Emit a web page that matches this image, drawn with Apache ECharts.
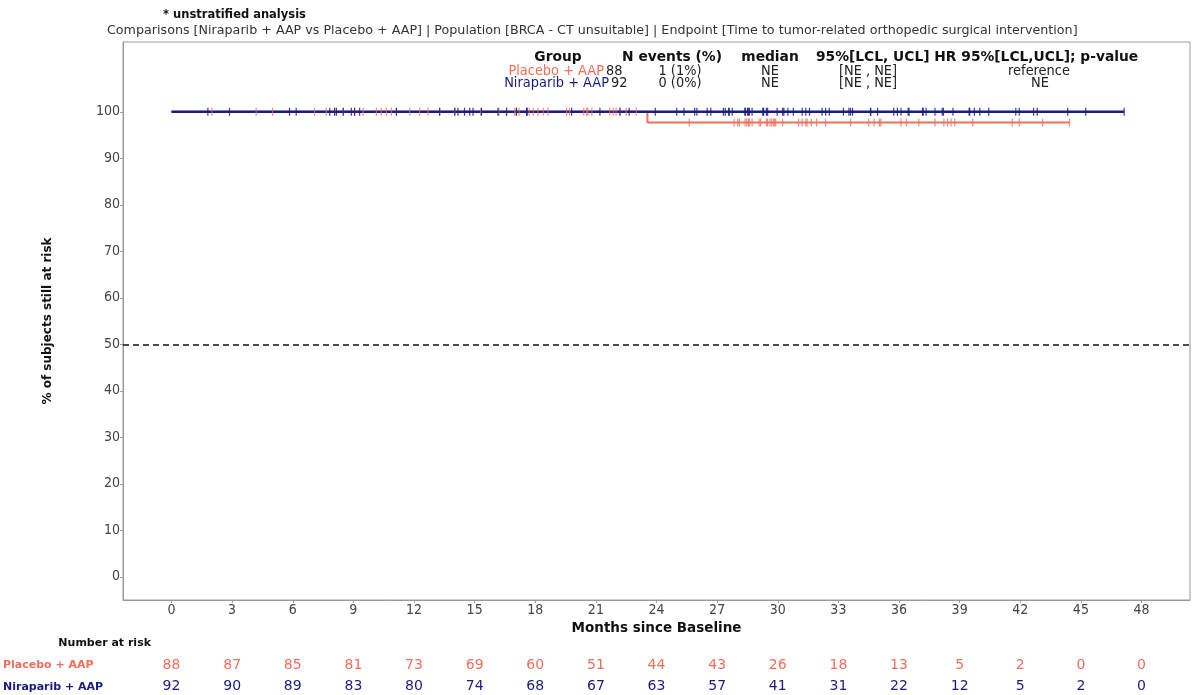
<!DOCTYPE html>
<html>
<head>
<meta charset="utf-8">
<script src="https://cdn.jsdelivr.net/npm/echarts@6/dist/echarts.min.js"></script>
<style>
  html, body { margin: 0; padding: 0; background: #fff; }
  #chart { width: 1192px; height: 695px; }
</style>
</head>
<body>
<div id="chart"></div>
<script>
// Axis ticks
const monthTicks = [0, 3, 6, 9, 12, 15, 18, 21, 24, 27, 30, 33, 36, 39, 42, 45, 48];
const pctTicks = [0, 10, 20, 30, 40, 50, 60, 70, 80, 90, 100];

// Groups
const groupNames = ['Placebo + AAP', 'Niraparib + AAP'];

// Kaplan-Meier step curves: [month, % still at risk]
const placeboCurve = [[0, 100], [23.55, 100], [23.55, 97.7], [44.44, 97.7]];
const niraparibCurve = [[0, 100], [47.14, 100]];

// Censoring times (months)
const placeboCensor = [
  2.0, 4.19, 5.0, 7.08, 7.66, 8.07, 8.5, 9.06, 9.48, 10.14, 10.38, 10.63, 10.88, 11.13, 11.79,
  12.28, 12.7, 13.27, 14.02, 15.3, 16.2, 16.58, 16.99, 17.07, 17.2, 17.57, 17.7, 17.9,
  18.14, 18.4, 18.64, 19.55, 19.7, 20.4, 20.54, 20.6, 20.8, 21.69, 21.86, 22.0, 22.19, 22.5, 23.0,
  25.62, 27.84, 28.02, 28.1, 28.38, 28.46, 28.55, 28.6, 28.73, 29.08, 29.15, 29.44, 29.5, 29.62,
  29.7, 29.79, 29.85, 29.9, 30.24, 31.03, 31.21, 31.39, 31.45, 31.66, 31.92, 32.37,
  33.61, 34.5, 34.77, 35.03, 35.1, 36.1, 36.37, 36.98, 37.78, 38.22, 38.4, 38.58, 38.76,
  39.65, 41.6, 41.95, 43.11, 44.44
];
const niraparibCensor = [
  1.8, 2.87, 5.84, 6.17, 7.83, 8.07, 8.16, 8.5, 8.9, 9.06, 9.31, 11.13,
  13.27, 14.02, 14.18, 14.5, 14.76, 14.92, 15.34, 16.16, 16.58, 17.07, 17.57, 17.6,
  19.8, 21.2, 22.19, 22.65, 23.94, 25.0, 25.36, 25.89, 26.0, 26.51, 26.69,
  27.31, 27.4, 27.57, 27.6, 27.75, 28.37, 28.4, 28.5, 28.55, 28.6, 28.73, 29.26, 29.3, 29.44, 29.5, 29.97,
  30.24, 30.3, 30.5, 30.77, 31.21, 31.39, 31.57, 32.19, 32.37, 32.55,
  33.25, 33.52, 33.6, 33.7, 34.59, 34.6, 34.94, 35.74, 35.92,
  36.1, 36.45, 36.5, 37.16, 37.2, 37.34, 37.78, 38.14, 38.2, 38.67,
  39.47, 39.5, 39.73, 40.0, 40.44, 41.78, 41.95, 42.66, 42.84, 44.35, 45.24, 47.14
];

// Number at risk at each month tick
const placeboAtRisk = [88, 87, 85, 81, 73, 69, 60, 51, 44, 43, 26, 18, 13, 5, 2, 0, 0];
const niraparibAtRisk = [92, 90, 89, 83, 80, 74, 68, 67, 63, 57, 41, 31, 22, 12, 5, 2, 0];

// Summary table
const summaryHeader = ['Group', 'N events (%)', 'median', '95%[LCL, UCL] HR 95%[LCL,UCL]; p-value'];
const placeboSummary = ['88', '1 (1%)', 'NE', '[NE , NE]', 'reference'];
const niraparibSummary = ['92', '0 (0%)', 'NE', '[NE , NE]', 'NE'];

const titleNote = '* unstratified analysis';
const subtitle = 'Comparisons [Niraparib + AAP vs Placebo + AAP] | Population [BRCA - CT unsuitable] | Endpoint [Time to tumor-related orthopedic surgical intervention]';

const PLACEBO = '#ef6f5d';
const NIRAPARIB = '#1b1b84';
const X_MIN = -2.4, X_MAX = 50.4;

function survivalAt(curve, t) {
  let v = curve[0][1];
  for (const p of curve) { if (p[0] <= t) v = p[1]; }
  return v;
}

const chart = echarts.init(document.getElementById('chart'), null, { renderer: 'canvas' });

const SANS = "'DejaVu Sans', sans-serif";
const COND = "'DejaVu Sans Condensed', 'Liberation Sans Narrow', 'DejaVu Sans', sans-serif";

function hiddenX(gridIndex) {
  return { type: 'value', gridIndex, min: X_MIN, max: X_MAX, show: false };
}
function hiddenY(gridIndex) {
  return { type: 'value', gridIndex, min: 0, max: 1, show: false };
}
// one row of the number-at-risk table, placed on the month scale
function riskRow(idx, values, color) {
  return {
    type: 'scatter', xAxisIndex: idx, yAxisIndex: idx, symbolSize: 0, silent: true,
    itemStyle: { opacity: 1 },
    data: monthTicks.map((m, i) => [m, 0.5, values[i]]),
    label: {
      show: true, position: 'inside', color, opacity: 1, fontFamily: SANS, fontSize: 14,
      formatter: p => String(p.value[2])
    }
  };
}

function tableText(x, y, text, opts) {
  return {
    type: 'text', x, y,
    style: Object.assign({ text, fill: '#222', align: 'center', verticalAlign: 'middle', font: "14.4px " + COND }, opts || {})
  };
}
const HEAD = "bold 13.8px 'DejaVu Sans', sans-serif";

const option = {
  animation: false,
  backgroundColor: '#fff',
  grid: [
    { left: 123, right: 2, top: 42, bottom: 95, show: true, borderColor: '#9a9a9a', borderWidth: 1 },
    { left: 123, right: 2, top: 656, height: 18 },
    { left: 123, right: 2, top: 678, height: 18 }
  ],
  xAxis: [
    {
      type: 'value', gridIndex: 0, min: X_MIN, max: X_MAX,
      name: 'Months since Baseline', nameLocation: 'middle', nameGap: 19,
      nameTextStyle: { fontFamily: SANS, fontWeight: 'bold', fontSize: 13.5, color: '#111' },
      axisLine: { show: true, onZero: false, lineStyle: { color: '#9a9a9a' } },
      axisTick: { show: true, length: 3, customValues: monthTicks, lineStyle: { color: '#9a9a9a' } },
      axisLabel: { customValues: monthTicks, color: '#444', fontFamily: COND, fontSize: 14, margin: 3 },
      splitLine: { show: false }
    },
    hiddenX(1), hiddenX(2)
  ],
  yAxis: [
    {
      type: 'value', gridIndex: 0, min: -5, max: 115,
      name: '% of subjects still at risk', nameLocation: 'middle', nameGap: 69, nameRotate: 90,
      nameTextStyle: { fontFamily: SANS, fontWeight: 'bold', fontSize: 12, color: '#111' },
      axisLine: { show: true, onZero: false, lineStyle: { color: '#9a9a9a' } },
      axisTick: { show: true, length: 3, customValues: pctTicks, lineStyle: { color: '#9a9a9a' } },
      axisLabel: { customValues: pctTicks, color: '#444', fontFamily: COND, fontSize: 14, margin: 3 },
      splitLine: { show: false }
    },
    hiddenY(1), hiddenY(2)
  ],
  series: [
    {
      name: groupNames[0], type: 'line', data: placeboCurve, showSymbol: false, silent: true,
      lineStyle: { color: PLACEBO, width: 2 }, z: 2,
      markLine: {
        silent: true, symbol: 'none', label: { show: false },
        lineStyle: { color: '#111', type: [6, 4], width: 1.5 },
        data: [{ yAxis: 50 }]
      }
    },
    {
      name: groupNames[1], type: 'line', data: niraparibCurve, showSymbol: false, silent: true,
      lineStyle: { color: NIRAPARIB, width: 2.5 }, z: 3
    },
    {
      type: 'scatter', silent: true, z: 4, symbol: 'rect', symbolSize: [1.2, 8],
      itemStyle: { color: PLACEBO, opacity: 0.8 },
      data: placeboCensor.map(t => [t, survivalAt(placeboCurve, t)])
    },
    {
      type: 'scatter', silent: true, z: 5, symbol: 'rect', symbolSize: [1.2, 8],
      itemStyle: { color: NIRAPARIB, opacity: 0.85 },
      data: niraparibCensor.map(t => [t, survivalAt(niraparibCurve, t)])
    },
    riskRow(1, placeboAtRisk, PLACEBO),
    riskRow(2, niraparibAtRisk, NIRAPARIB)
  ],
  graphic: [
    { type: 'text', left: 163, top: 9, style: { text: titleNote, font: "bold 11.5px 'DejaVu Sans', sans-serif", fill: '#111' } },
    { type: 'text', left: 107, top: 24, style: { text: subtitle, font: "12.7px 'DejaVu Sans', sans-serif", fill: '#333' } },

    // summary table header
    tableText(558, 57, summaryHeader[0], { font: HEAD, fill: '#111' }),
    tableText(672, 57, summaryHeader[1], { font: HEAD, fill: '#111' }),
    tableText(770, 57, summaryHeader[2], { font: HEAD, fill: '#111' }),
    tableText(816, 57, summaryHeader[3], { font: HEAD, fill: '#111', align: 'left' }),

    // summary rows
    tableText(604, 71, groupNames[0], { fill: PLACEBO, align: 'right' }),
    tableText(606, 71, placeboSummary[0], { align: 'left' }),
    tableText(680, 71, placeboSummary[1]),
    tableText(770, 71, placeboSummary[2]),
    tableText(868, 71, placeboSummary[3]),
    tableText(1039, 71, placeboSummary[4]),

    tableText(609, 83, groupNames[1], { fill: NIRAPARIB, align: 'right' }),
    tableText(611, 83, niraparibSummary[0], { align: 'left' }),
    tableText(680, 83, niraparibSummary[1]),
    tableText(770, 83, niraparibSummary[2]),
    tableText(868, 83, niraparibSummary[3]),
    tableText(1040, 83, niraparibSummary[4]),

    // number-at-risk labels
    { type: 'text', x: 151, y: 643, style: { text: 'Number at risk', font: "bold 11px 'DejaVu Sans', sans-serif", fill: '#111', align: 'right', verticalAlign: 'middle' } },
    { type: 'text', x: 3, y: 665, style: { text: groupNames[0], font: "bold 11px 'DejaVu Sans', sans-serif", fill: PLACEBO, align: 'left', verticalAlign: 'middle' } },
    { type: 'text', x: 3, y: 687, style: { text: groupNames[1], font: "bold 11px 'DejaVu Sans', sans-serif", fill: NIRAPARIB, align: 'left', verticalAlign: 'middle' } }
  ]
};

chart.setOption(option);
</script>
</body>
</html>
